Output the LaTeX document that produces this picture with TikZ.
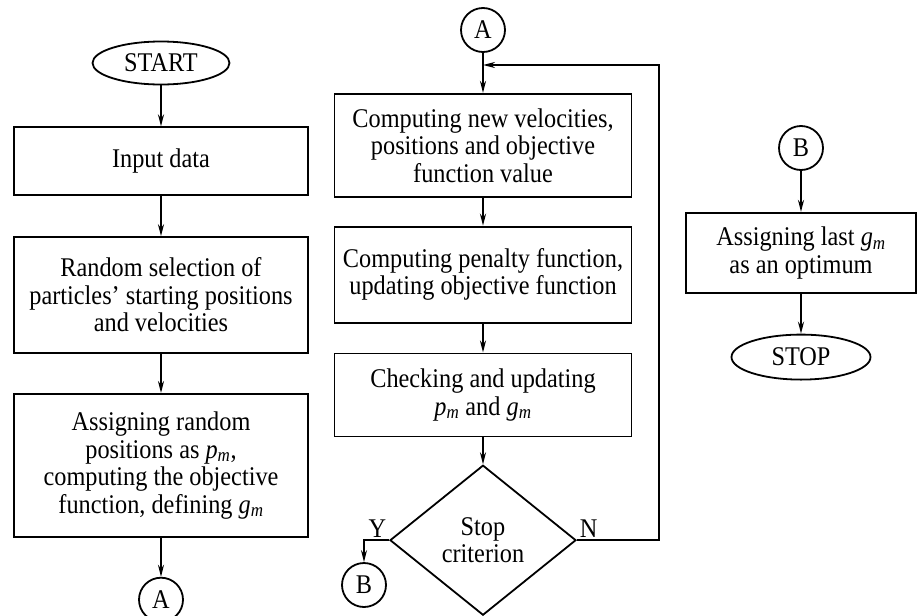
\documentclass[tikz,border=0pt]{standalone}
\usepackage{fontspec}
\setmainfont{Liberation Serif}[FakeStretch=0.9]
\usetikzlibrary{arrows.meta,shapes.geometric,positioning}
\tikzstyle{proc} = [rectangle, draw, align=center, inner sep=0pt,
    minimum width=294pt]
\tikzstyle{term} = [ellipse, draw, inner sep=0pt, minimum width=137pt,
    minimum height=43pt]
\tikzstyle{conn} = [circle, draw, inner sep=0pt, minimum size=44pt]
\tikzstyle{dec} = [diamond, draw, align=center, inner sep=0pt,
    minimum width=186pt, minimum height=150pt]
\newcommand{\pmval}{\textit{p}\textsubscript{\textit{m}}}
\newcommand{\gmval}{\textit{g}\textsubscript{\textit{m}}}

\begin{document}
\begin{tikzpicture}[->,>={Stealth[length=12pt,width=6pt]},line width=1.8pt,
                    x=1pt,y=-1pt,font=\fontsize{27pt}{27.5pt}\selectfont]
  \useasboundingbox (0,0) rectangle (919,616);

  % left column
  \node[term]                         (start) at (161,63) {START};
  \node[proc, minimum height=68pt]    (input) [below=41pt of start] {Input data};
  \node[proc, minimum height=116pt]   (random) [below=40pt of input]
       {Random selection of\\particles' starting positions\\and velocities};
  \node[proc, minimum height=143pt]   (assign) [below=39pt of random]
       {Assigning random\\positions as \pmval,\\computing the objective\\function, defining \gmval};
  \node[conn]                         (A1) [below=39pt of assign] {A};

  % middle column
  \node[conn]                         (A2) at (483,30) {A};
  \node[proc, minimum width=297pt, minimum height=103pt] (newvel) [below=40pt of A2]
       {Computing new velocities,\\positions and objective\\function value};
  \node[proc, minimum width=297pt, minimum height=96pt]  (penalty) [below=28pt of newvel]
       {Computing penalty function,\\updating objective function};
  \node[proc, minimum width=297pt, minimum height=83pt]  (check) [below=29pt of penalty]
       {Checking and updating\\\pmval{} and \gmval};
  \node[dec]                          (decide) [below=27pt of check] {Stop\\criterion};
  \node[conn]                         (B2) at (364,585) {B};

  % right column
  \node[conn]                         (B3) at (801,148) {B};
  \node[proc, minimum width=230pt, minimum height=80pt] (last) [below=41pt of B3]
       {Assigning last \gmval\\as an optimum};
  \node[term, minimum width=139pt, minimum height=45pt] (stop) [below=40pt of last] {STOP};

  \coordinate (nturn) at (659,65);
  \coordinate (join) at (A2 |- nturn);

  \path (start) edge (input)
        (input) edge (random)
        (random) edge (assign)
        (assign) edge (A1)
        (A2) edge (newvel)
        (newvel) edge (penalty)
        (penalty) edge (check)
        (check) edge (decide)
        (B3) edge (last)
        (last) edge (stop);

  \draw (decide.west) node[above left, inner sep=2pt] {Y} -| (B2);
  \draw (decide.east) node[above right, inner sep=2pt] {N} -| (nturn) -- (join);
\end{tikzpicture}
\end{document}
